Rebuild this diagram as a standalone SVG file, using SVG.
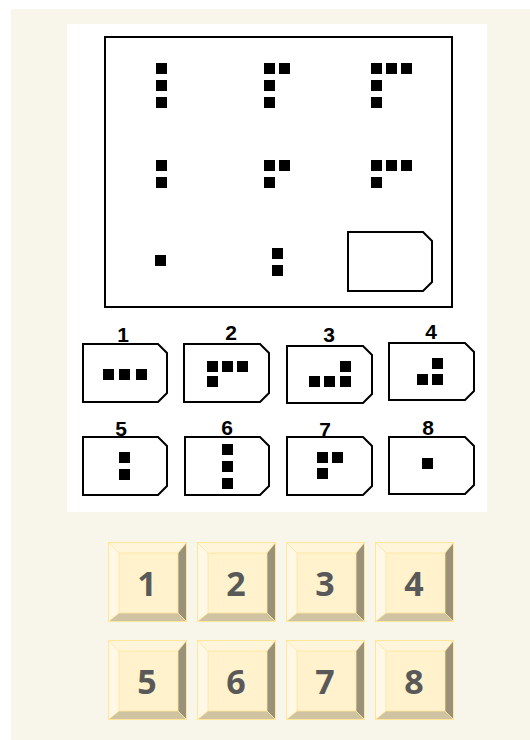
<svg xmlns="http://www.w3.org/2000/svg" xmlns:xlink="http://www.w3.org/1999/xlink" width="530" height="740" viewBox="0 0 530 740">
<style>
.sq{fill:#000}
.box{fill:#fff;stroke:#000;stroke-width:2}
.lbl{font-family:"Liberation Sans",Arial,sans-serif;font-weight:bold;font-size:21px;fill:#000;text-anchor:middle}
.num{font-family:"Open Sans","Liberation Sans",sans-serif;font-weight:bold;font-size:34px;fill:#595959;text-anchor:middle}
</style>
<defs>
<g id="btn">
<rect x="0" y="0" width="79" height="80" fill="#FFF2CC"/>
<polygon points="0,0 79,0 70,11 11,11" fill="#FFF5DA"/>
<polygon points="0,0 11,11 11,71 0,80" fill="#FFF8E6"/>
<polygon points="79,0 79,80 70,71 70,11" fill="#9A917A"/>
<polygon points="0,80 11,71 70,71 79,80" fill="#CFC3A1"/>
<rect x="11" y="11" width="59" height="60" fill="#FFF2CC" stroke="#FFE699" stroke-width="0.8"/>
<path d="M0,0 L11,11 M79,0 L70,11 M0,80 L11,71 M79,80 L70,71" stroke="#FFE699" stroke-width="0.8" fill="none"/>
<rect x="0.5" y="0.5" width="78" height="79" fill="none" stroke="#FFE699" stroke-width="1"/>
</g>
</defs>
<rect x="0" y="0" width="530" height="740" fill="#fff"/>
<rect x="11" y="9" width="519" height="731" fill="#F8F5EA"/>
<rect x="67" y="24" width="420" height="488" fill="#fff"/>

<g id="matrix">
<rect x="105" y="37" width="347" height="270" fill="#fff" stroke="#000" stroke-width="2"/>
<g id="cell-1-1"><rect class="sq" x="156" y="63" width="11" height="11"/><rect class="sq" x="156" y="80" width="11" height="11"/><rect class="sq" x="156" y="97" width="11" height="11"/></g>
<g id="cell-1-2"><rect class="sq" x="264" y="63" width="11" height="11"/><rect class="sq" x="279" y="63" width="11" height="11"/><rect class="sq" x="264" y="80" width="11" height="11"/><rect class="sq" x="264" y="97" width="11" height="11"/></g>
<g id="cell-1-3"><rect class="sq" x="371" y="63" width="11" height="11"/><rect class="sq" x="386" y="63" width="11" height="11"/><rect class="sq" x="401" y="63" width="11" height="11"/><rect class="sq" x="371" y="80" width="11" height="11"/><rect class="sq" x="371" y="97" width="11" height="11"/></g>
<g id="cell-2-1"><rect class="sq" x="156" y="160" width="11" height="11"/><rect class="sq" x="156" y="177" width="11" height="11"/></g>
<g id="cell-2-2"><rect class="sq" x="264" y="160" width="11" height="11"/><rect class="sq" x="279" y="160" width="11" height="11"/><rect class="sq" x="264" y="177" width="11" height="11"/></g>
<g id="cell-2-3"><rect class="sq" x="371" y="160" width="11" height="11"/><rect class="sq" x="386" y="160" width="11" height="11"/><rect class="sq" x="401" y="160" width="11" height="11"/><rect class="sq" x="371" y="177" width="11" height="11"/></g>
<g id="cell-3-1"><rect class="sq" x="155" y="255" width="11" height="11"/></g>
<g id="cell-3-2"><rect class="sq" x="272" y="248" width="11" height="11"/><rect class="sq" x="272" y="265" width="11" height="11"/></g>
<g id="cell-3-3"><path class="box" d="M348,232 H423 L432,241 V282 L423,291 H348 Z"/></g>
</g>

<g id="option-1">
<text class="lbl" x="123" y="342">1</text>
<path class="box" d="M83,344 H158 L167,353 V393 L158,402 H83 Z"/>
<rect class="sq" x="103" y="369" width="11" height="11"/><rect class="sq" x="119" y="369" width="11" height="11"/><rect class="sq" x="136" y="369" width="11" height="11"/>
</g>
<g id="option-2">
<text class="lbl" x="231" y="340">2</text>
<path class="box" d="M184,344 H260 L269,353 V393 L260,402 H184 Z"/>
<rect class="sq" x="207" y="361" width="11" height="11"/><rect class="sq" x="222" y="361" width="11" height="11"/><rect class="sq" x="237" y="361" width="11" height="11"/><rect class="sq" x="207" y="376" width="11" height="11"/>
</g>
<g id="option-3">
<text class="lbl" x="329" y="342">3</text>
<path class="box" d="M287,346 H363 L372,355 V394 L363,403 H287 Z"/>
<rect class="sq" x="309" y="376" width="11" height="11"/><rect class="sq" x="324" y="376" width="11" height="11"/><rect class="sq" x="340" y="376" width="11" height="11"/><rect class="sq" x="340" y="361" width="11" height="11"/>
</g>
<g id="option-4">
<text class="lbl" x="431" y="339">4</text>
<path class="box" d="M389,343 H465 L474,352 V391 L465,400 H389 Z"/>
<rect class="sq" x="432" y="358" width="11" height="11"/><rect class="sq" x="417" y="374" width="11" height="11"/><rect class="sq" x="432" y="374" width="11" height="11"/>
</g>
<g id="option-5">
<text class="lbl" x="121" y="436">5</text>
<path class="box" d="M83,437 H158 L167,446 V486 L158,495 H83 Z"/>
<rect class="sq" x="119" y="452" width="11" height="11"/><rect class="sq" x="119" y="469" width="11" height="11"/>
</g>
<g id="option-6">
<text class="lbl" x="227" y="435">6</text>
<path class="box" d="M185,437 H260 L269,446 V486 L260,495 H185 Z"/>
<rect class="sq" x="222" y="444" width="11" height="11"/><rect class="sq" x="222" y="461" width="11" height="11"/><rect class="sq" x="222" y="478" width="11" height="11"/>
</g>
<g id="option-7">
<text class="lbl" x="325" y="437">7</text>
<path class="box" d="M287,437 H363 L372,446 V486 L363,495 H287 Z"/>
<rect class="sq" x="317" y="452" width="11" height="11"/><rect class="sq" x="332" y="452" width="11" height="11"/><rect class="sq" x="317" y="468" width="11" height="11"/>
</g>
<g id="option-8">
<text class="lbl" x="428" y="435">8</text>
<path class="box" d="M389,437 H465 L474,446 V485 L465,494 H389 Z"/>
<rect class="sq" x="422" y="458" width="11" height="11"/>
</g>

<g id="button-1"><use xlink:href="#btn" x="108" y="542"/><text class="num" x="147" y="596">1</text></g>
<g id="button-2"><use xlink:href="#btn" x="197" y="542"/><text class="num" x="236" y="596">2</text></g>
<g id="button-3"><use xlink:href="#btn" x="286" y="542"/><text class="num" x="325" y="596">3</text></g>
<g id="button-4"><use xlink:href="#btn" x="375" y="542"/><text class="num" x="414" y="596">4</text></g>
<g id="button-5"><use xlink:href="#btn" x="108" y="640"/><text class="num" x="147" y="694">5</text></g>
<g id="button-6"><use xlink:href="#btn" x="197" y="640"/><text class="num" x="236" y="694">6</text></g>
<g id="button-7"><use xlink:href="#btn" x="286" y="640"/><text class="num" x="325" y="694">7</text></g>
<g id="button-8"><use xlink:href="#btn" x="375" y="640"/><text class="num" x="414" y="694">8</text></g>
<g id="connectors"/>
</svg>
